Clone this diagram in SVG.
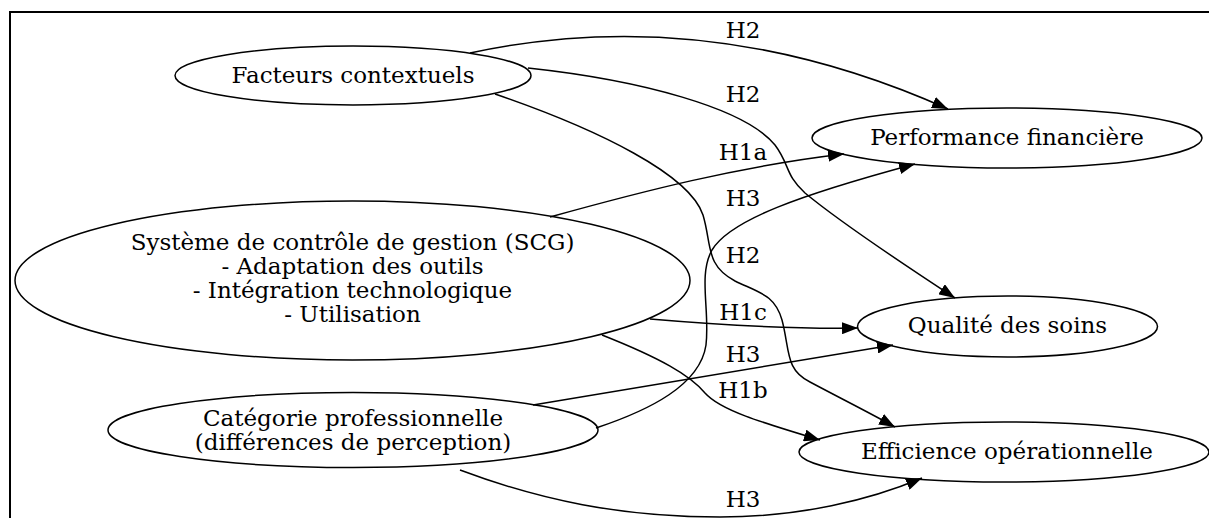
<svg xmlns="http://www.w3.org/2000/svg" width="1209" height="518" viewBox="0 0 1209 518">
<defs>
<style>
.n ellipse{fill:none;stroke:#000;stroke-width:1.5}
text{font-family:"DejaVu Serif","Liberation Serif",serif;font-size:23px;fill:#000;text-anchor:middle}
.e path{fill:none;stroke:#000;stroke-width:1.5;marker-end:url(#ah)}
</style>
<marker id="ah" markerUnits="userSpaceOnUse" markerWidth="16" markerHeight="12" viewBox="0 0 16 12" refX="16" refY="6" orient="auto">
<path d="M0,0 L16,6 L0,12 z" fill="#000"/>
</marker>
</defs>
<rect width="1209" height="518" fill="#fff"/>
<polyline points="10,518 10,12 1209,12" fill="none" stroke="#000" stroke-width="2"/>
<g id="edges" class="e">
<path d="M470,53 C600,25 760,25 948,109"/>
<path d="M528,68 C640,80 745,108 775,145 C790,165 785,175 805,193 C840,222 900,262 955,298"/>
<path d="M495,94 C600,130 690,175 703,215 C712,245 705,265 735,281 C760,293 775,295 782,320 C790,350 785,370 810,382 C840,398 870,413 895,427"/>
<path d="M550,217 C640,192 740,166 844,154"/>
<path d="M650,319 C720,325 790,329 858,328"/>
<path d="M602,335 C660,358 690,375 705,393 C720,410 760,422 820,440"/>
<path d="M596,428 C650,410 700,385 706,345 C710,310 698,275 712,250 C730,220 800,195 915,164"/>
<path d="M533,405 L893,345"/>
<path d="M460,470 C540,500 620,517 720,517 C800,517 870,500 922,478"/>
<text x="743" y="38">H2</text>
<text x="743" y="102">H2</text>
<text x="743" y="160">H1a</text>
<text x="743" y="206">H3</text>
<text x="743" y="263">H2</text>
<text x="743" y="320">H1c</text>
<text x="743" y="362">H3</text>
<text x="743" y="398">H1b</text>
<text x="743" y="507">H3</text>
</g>
<g id="facteurs" class="n">
<ellipse cx="353" cy="75.5" rx="178" ry="29.5"/>
<text x="353" y="83">Facteurs contextuels</text>
</g>
<g id="scg" class="n">
<ellipse cx="352.5" cy="280.5" rx="337.5" ry="79.5"/>
<text x="352.5" y="250">Système de contrôle de gestion (SCG)</text>
<text x="352.5" y="274">- Adaptation des outils</text>
<text x="352.5" y="298">- Intégration technologique</text>
<text x="352.5" y="322">- Utilisation</text>
</g>
<g id="categorie" class="n">
<ellipse cx="353" cy="430" rx="245" ry="37.5"/>
<text x="353" y="426">Catégorie professionnelle</text>
<text x="353" y="450">(différences de perception)</text>
</g>
<g id="performance" class="n">
<ellipse cx="1007" cy="138" rx="195" ry="30"/>
<text x="1007" y="145">Performance financière</text>
</g>
<g id="qualite" class="n">
<ellipse cx="1007.5" cy="326.5" rx="150" ry="30.5"/>
<text x="1007.5" y="333">Qualité des soins</text>
</g>
<g id="efficience" class="n">
<ellipse cx="1004" cy="452" rx="205" ry="30"/>
<text x="1007" y="459">Efficience opérationnelle</text>
</g>
</svg>
